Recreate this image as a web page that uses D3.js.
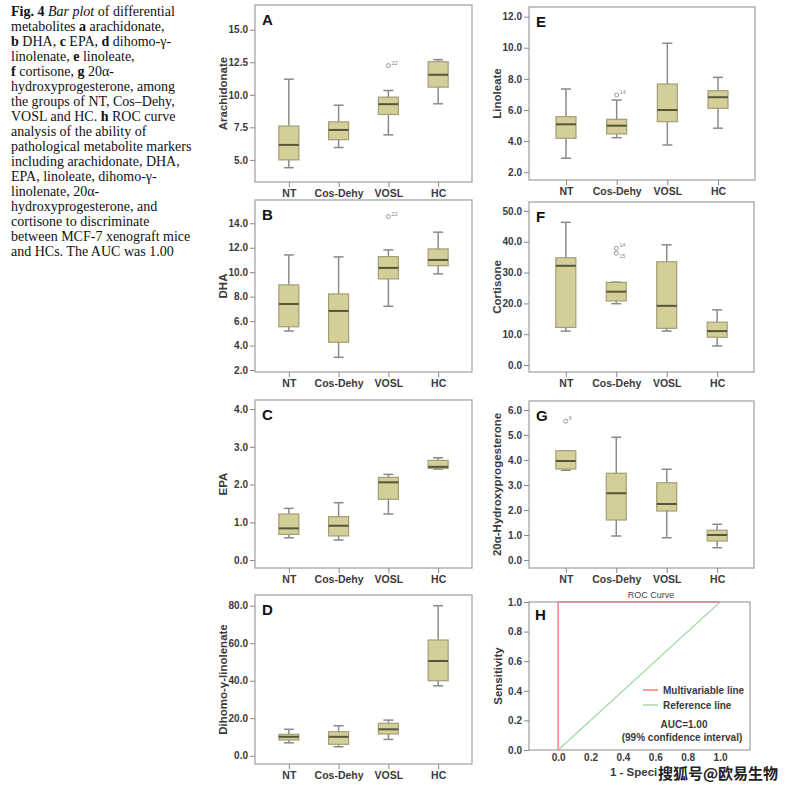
<!DOCTYPE html>
<html>
  <head>
    <meta charset="utf-8">
    <title>Fig. 4</title>
    <script src="https://d3js.org/d3.v7.min.js"></script>
    <style>
      body { margin: 0; background: #fff; }
      svg { display: block; }
      .cap { font-family: "Liberation Serif", "DejaVu Serif", serif; font-size: 14px; fill: #111; }
      .ax { font-family: "Liberation Sans", Arial, sans-serif; font-weight: bold; fill: #3a3a3a; }
    </style>
  </head>
  <body>
    <svg width="797" height="792"></svg>

    <script>
      // Groups on every box plot
      var groups = ["NT", "Cos-Dehy", "VOSL", "HC"];

      // Box stats per group: [min, q1, median, q3, max]
      var arachidonate = [[4.4, 5.0, 6.15, 7.6, 11.2], [5.95, 6.55, 7.3, 7.92, 9.2], [6.92, 8.49, 9.28, 9.82, 10.33], [9.31, 10.59, 11.54, 12.54, 12.7]];
      var dha = [[5.19, 5.54, 7.4, 8.96, 11.41], [3.04, 4.27, 6.83, 8.22, 11.25], [7.21, 9.45, 10.35, 11.27, 11.82], [9.86, 10.53, 11.0, 11.9, 13.27]];
      var epa = [[0.59, 0.68, 0.84, 1.22, 1.37], [0.53, 0.64, 0.91, 1.15, 1.52], [1.22, 1.61, 2.06, 2.19, 2.27], [2.41, 2.43, 2.47, 2.64, 2.71]];
      var dihomo = [[6.9, 8.4, 10.1, 11.4, 14.1], [4.8, 6.1, 10.1, 12.8, 16.0], [8.7, 11.6, 14.1, 17.3, 19.0], [37.3, 40.0, 50.5, 61.7, 80.0]];
      var linoleate = [[2.9, 4.18, 5.08, 5.57, 7.35], [4.22, 4.46, 4.99, 5.4, 6.64], [3.75, 5.25, 6.0, 7.67, 10.29], [4.83, 6.11, 6.82, 7.24, 8.1]];
      var cortisone = [[11.0, 12.2, 32.2, 34.8, 46.3], [19.9, 20.8, 23.8, 26.8, 26.9], [11.0, 11.9, 19.2, 33.5, 39.0], [6.2, 9.0, 11.0, 13.9, 17.9]];
      var hydroxy = [[3.59, 3.64, 3.96, 4.37, 4.37], [0.96, 1.6, 2.67, 3.47, 4.91], [0.89, 1.96, 2.24, 3.09, 3.63], [0.49, 0.76, 1.0, 1.19, 1.43]];

      // Outliers: [group index, value, case label]
      var arachidonateOut = [[2, 12.25, "22"]];
      var dhaOut = [[2, 14.55, "22"]];
      var linoleateOut = [[1, 6.96, "14"]];
      var cortisoneOut = [[1, 37.9, "14"], [1, 36.3, "15"]];
      var hydroxyOut = [[0, 5.55, "6"]];

      // Tick values
      var ticksA = [5, 7.5, 10, 12.5, 15];
      var ticksB = [2, 4, 6, 8, 10, 12, 14];
      var ticksC = [0, 1, 2, 3, 4];
      var ticksD = [0, 20, 40, 60, 80];
      var ticksE = [2, 4, 6, 8, 10, 12];
      var ticksF = [0, 10, 20, 30, 40, 50];
      var ticksG = [0, 1, 2, 3, 4, 5, 6];
      var rocTicks = [0, 0.2, 0.4, 0.6, 0.8, 1.0];

      // ROC curves (1 - specificity, sensitivity)
      var rocModel = [[0, 0], [0, 1], [1, 1]];
      var rocRef = [[0, 0], [1, 1]];

      var captionLines = [
        [["Fig. 4", "b"], ["  "], ["Bar plot", "i"], [" of differential"]],
        [["metabolites "], ["a", "b"], [" arachidonate,"]],
        [["b", "b"], [" DHA, "], ["c", "b"], [" EPA, "], ["d", "b"], [" dihomo-γ-"]],
        [["linolenate, "], ["e", "b"], [" linoleate,"]],
        [["f", "b"], [" cortisone, "], ["g", "b"], [" 20α-"]],
        [["hydroxyprogesterone, among"]],
        [["the groups of NT, Cos–Dehy,"]],
        [["VOSL and HC. "], ["h", "b"], [" ROC curve"]],
        [["analysis of the ability of"]],
        [["pathological metabolite markers"]],
        [["including arachidonate, DHA,"]],
        [["EPA, linoleate, dihomo-γ-"]],
        [["linolenate, 20α-"]],
        [["hydroxyprogesterone, and"]],
        [["cortisone to discriminate"]],
        [["between MCF-7 xenograft mice"]],
        [["and HCs. The AUC was 1.00"]]
      ];

      var svg = d3.select("svg");

      // caption
      captionLines.forEach(function(line, i) {
        var t = svg.append("text").attr("class", "cap").attr("x", 11).attr("y", 15.5 + i * 15);
        line.forEach(function(p) {
          var s = t.append("tspan").text(p[0]);
          if (p[1] == "b") s.style("font-weight", "bold");
          if (p[1] == "i") s.style("font-style", "italic");
        });
      });

      var panels = [
        {id: "A", title: "Arachidonate", data: arachidonate, out: arachidonateOut, ticks: ticksA, fmt: ".1f", x: 255, y: 5, w: 217, h: 177, dom: [3.3, 16.9], pad: 0.68},
        {id: "B", title: "DHA", data: dha, out: dhaOut, ticks: ticksB, fmt: ".1f", x: 255, y: 200, w: 217, h: 172, dom: [1.84, 15.9], pad: 0.68},
        {id: "C", title: "EPA", data: epa, out: [], ticks: ticksC, fmt: ".1f", x: 255, y: 400, w: 217, h: 168, dom: [-0.21, 4.24], pad: 0.68},
        {id: "D", title: "Dihomo-γ-linolenate", data: dihomo, out: [], ticks: ticksD, fmt: ".1f", x: 255, y: 595, w: 217, h: 169, dom: [-4.4, 85.7], pad: 0.68},
        {id: "E", title: "Linoleate", data: linoleate, out: linoleateOut, ticks: ticksE, fmt: ".1f", x: 529, y: 7, w: 226, h: 173, dom: [1.5, 12.62], pad: 0.73},
        {id: "F", title: "Cortisone", data: cortisone, out: cortisoneOut, ticks: ticksF, fmt: ".1f", x: 529, y: 202, w: 225, h: 170, dom: [-2.27, 52.9], pad: 0.73},
        {id: "G", title: "20α-Hydroxyprogesterone", data: hydroxy, out: hydroxyOut, ticks: ticksG, fmt: ".1f", x: 529, y: 401, w: 225, h: 167, dom: [-0.32, 6.36], pad: 0.73}
      ];

      panels.forEach(function(p) {
        var g = svg.append("g");
        var x = d3.scalePoint().domain(groups).range([p.x, p.x + p.w]).padding(p.pad);
        var y = d3.scaleLinear().domain(p.dom).range([p.y + p.h, p.y]);
        var bw = 20, cap = 10;

        // frame
        g.append("rect").attr("x", p.x).attr("y", p.y).attr("width", p.w).attr("height", p.h)
          .attr("fill", "none").attr("stroke", "#a6a6a6").attr("stroke-width", 1.3);

        // y axis
        var ya = g.append("g").attr("transform", "translate(" + p.x + ",0)")
          .call(d3.axisLeft(y).tickValues(p.ticks).tickFormat(d3.format(p.fmt)).tickSize(5).tickPadding(2));
        ya.select(".domain").remove();
        ya.selectAll("line").attr("stroke", "#888");
        ya.selectAll("text").attr("class", "ax").style("font-size", "10px");

        // x axis
        var xa = g.append("g").attr("transform", "translate(0," + (p.y + p.h) + ")")
          .call(d3.axisBottom(x).tickSize(5).tickPadding(3));
        xa.select(".domain").remove();
        xa.selectAll("line").attr("stroke", "#888");
        xa.selectAll("text").attr("class", "ax").style("font-size", "10.5px");

        // y title
        g.append("text").attr("class", "ax").style("font-size", "11.5px")
          .attr("text-anchor", "middle").attr("dominant-baseline", "central")
          .attr("transform", "translate(" + (p.x - 32) + "," + (p.y + p.h / 2) + ") rotate(-90)")
          .text(p.title);

        // panel letter
        g.append("text").attr("class", "ax").style("font-size", "15px").style("fill", "#111")
          .attr("x", p.x + 7).attr("y", p.y + 20).text(p.id);

        // boxes
        var box = g.selectAll(".box").data(p.data).enter().append("g");
        box.append("line")
          .attr("x1", function(d, i) { return x(groups[i]); })
          .attr("x2", function(d, i) { return x(groups[i]); })
          .attr("y1", function(d) { return y(d[0]); })
          .attr("y2", function(d) { return y(d[4]); })
          .attr("stroke", "#8a8a8a").attr("stroke-width", 1.5);
        [0, 4].forEach(function(k) {
          box.append("line")
            .attr("x1", function(d, i) { return x(groups[i]) - cap / 2; })
            .attr("x2", function(d, i) { return x(groups[i]) + cap / 2; })
            .attr("y1", function(d) { return y(d[k]); })
            .attr("y2", function(d) { return y(d[k]); })
            .attr("stroke", "#8a8a8a").attr("stroke-width", 1.5);
        });
        box.append("rect")
          .attr("x", function(d, i) { return x(groups[i]) - bw / 2; })
          .attr("y", function(d) { return y(d[3]); })
          .attr("width", bw)
          .attr("height", function(d) { return y(d[1]) - y(d[3]); })
          .attr("fill", "#d4cf98").attr("stroke", "#a39e76").attr("stroke-width", 1.2);
        box.append("line")
          .attr("x1", function(d, i) { return x(groups[i]) - bw / 2; })
          .attr("x2", function(d, i) { return x(groups[i]) + bw / 2; })
          .attr("y1", function(d) { return y(d[2]); })
          .attr("y2", function(d) { return y(d[2]); })
          .attr("stroke", "#55553a").attr("stroke-width", 2);

        // outliers; a second case in the same group gets its label below
        g.selectAll(".out").data(p.out).enter().append("circle")
          .attr("cx", function(d) { return x(groups[d[0]]); })
          .attr("cy", function(d) { return y(d[1]); })
          .attr("r", 2).attr("fill", "none").attr("stroke", "#999").attr("stroke-width", 1);
        g.selectAll(".outl").data(p.out).enter().append("text")
          .attr("x", function(d) { return x(groups[d[0]]) + 3; })
          .attr("y", function(d, i) { return i > 0 ? y(d[1]) + 5 : y(d[1]) - 1; })
          .style("font-family", "Liberation Sans, Arial, sans-serif").style("font-size", "5.5px").style("fill", "#888")
          .text(function(d) { return d[2]; });
      });

      // ROC panel
      var H = {x: 529, y: 602, w: 221, h: 148};
      var rx = d3.scaleLinear().domain([-0.18, 1.185]).range([H.x, H.x + H.w]);
      var ry = d3.scaleLinear().domain([0, 1]).range([H.y + H.h, H.y]);
      var gh = svg.append("g");

      var line = d3.line().x(function(d) { return rx(d[0]); }).y(function(d) { return ry(d[1]); });
      gh.append("path").attr("d", line(rocRef)).attr("fill", "none").attr("stroke", "#a9dcae").attr("stroke-width", 1.4);
      gh.append("path").attr("d", line(rocModel)).attr("fill", "none").attr("stroke", "#f08585").attr("stroke-width", 1.5);
      gh.append("rect").attr("x", H.x).attr("y", H.y).attr("width", H.w).attr("height", H.h)
        .attr("fill", "none").attr("stroke", "#a6a6a6").attr("stroke-width", 1.3);
      gh.append("line").attr("x1", rx(0)).attr("x2", rx(1)).attr("y1", ry(1)).attr("y2", ry(1))
        .attr("stroke", "#f08585").attr("stroke-width", 1.2).attr("opacity", 0.7);

      var hy = gh.append("g").attr("transform", "translate(" + H.x + ",0)")
        .call(d3.axisLeft(ry).tickValues(rocTicks).tickFormat(d3.format(".1f")).tickSize(5).tickPadding(2));
      hy.select(".domain").remove();
      hy.selectAll("line").attr("stroke", "#888");
      hy.selectAll("text").attr("class", "ax").style("font-size", "10px");

      var hx = gh.append("g").attr("transform", "translate(0," + (H.y + H.h) + ")")
        .call(d3.axisBottom(rx).tickValues(rocTicks).tickFormat(d3.format(".1f")).tickSize(0).tickPadding(4));
      hx.select(".domain").remove();
      hx.selectAll("text").attr("class", "ax").style("font-size", "10px");

      gh.append("text").attr("x", 651).attr("y", 598).attr("text-anchor", "middle")
        .style("font-family", "Liberation Sans, Arial, sans-serif").style("font-size", "9px").style("fill", "#444")
        .text("ROC Curve");
      gh.append("text").attr("class", "ax").style("font-size", "15px").style("fill", "#111")
        .attr("x", H.x + 6).attr("y", H.y + 18).text("H");
      gh.append("text").attr("class", "ax").style("font-size", "11.5px")
        .attr("text-anchor", "middle").attr("dominant-baseline", "central")
        .attr("transform", "translate(498," + (H.y + H.h / 2) + ") rotate(-90)")
        .text("Sensitivity");

      // legend
      var legend = [["Multivariable line", "#f08585"], ["Reference line", "#a9dcae"]];
      legend.forEach(function(l, i) {
        gh.append("line").attr("x1", 643).attr("x2", 658).attr("y1", 690 + i * 15).attr("y2", 690 + i * 15)
          .attr("stroke", l[1]).attr("stroke-width", 1.6);
        gh.append("text").attr("class", "ax").style("font-size", "10px")
          .attr("x", 663).attr("y", 690 + i * 15).attr("dominant-baseline", "central").text(l[0]);
      });
      gh.append("text").attr("class", "ax").style("font-size", "10px").attr("text-anchor", "middle")
        .attr("x", 684).attr("y", 728).text("AUC=1.00");
      gh.append("text").attr("class", "ax").style("font-size", "10px").attr("text-anchor", "middle")
        .attr("x", 682).attr("y", 741).text("(99% confidence interval)");

      gh.append("text").attr("class", "ax").style("font-size", "11.5px")
        .attr("x", 610).attr("y", 776).text("1 - Specificity");

      // watermark (covers the end of the x title, as in the source image)
      svg.append("text").attr("x", 658).attr("y", 779)
        .style("font-family", "Noto Sans CJK SC").style("font-size", "15px").style("font-weight", "bold")
        .style("fill", "#222").style("stroke", "#fff").style("stroke-width", 3).style("paint-order", "stroke")
        .text("搜狐号@欧易生物");
    </script>
  </body>
</html>
